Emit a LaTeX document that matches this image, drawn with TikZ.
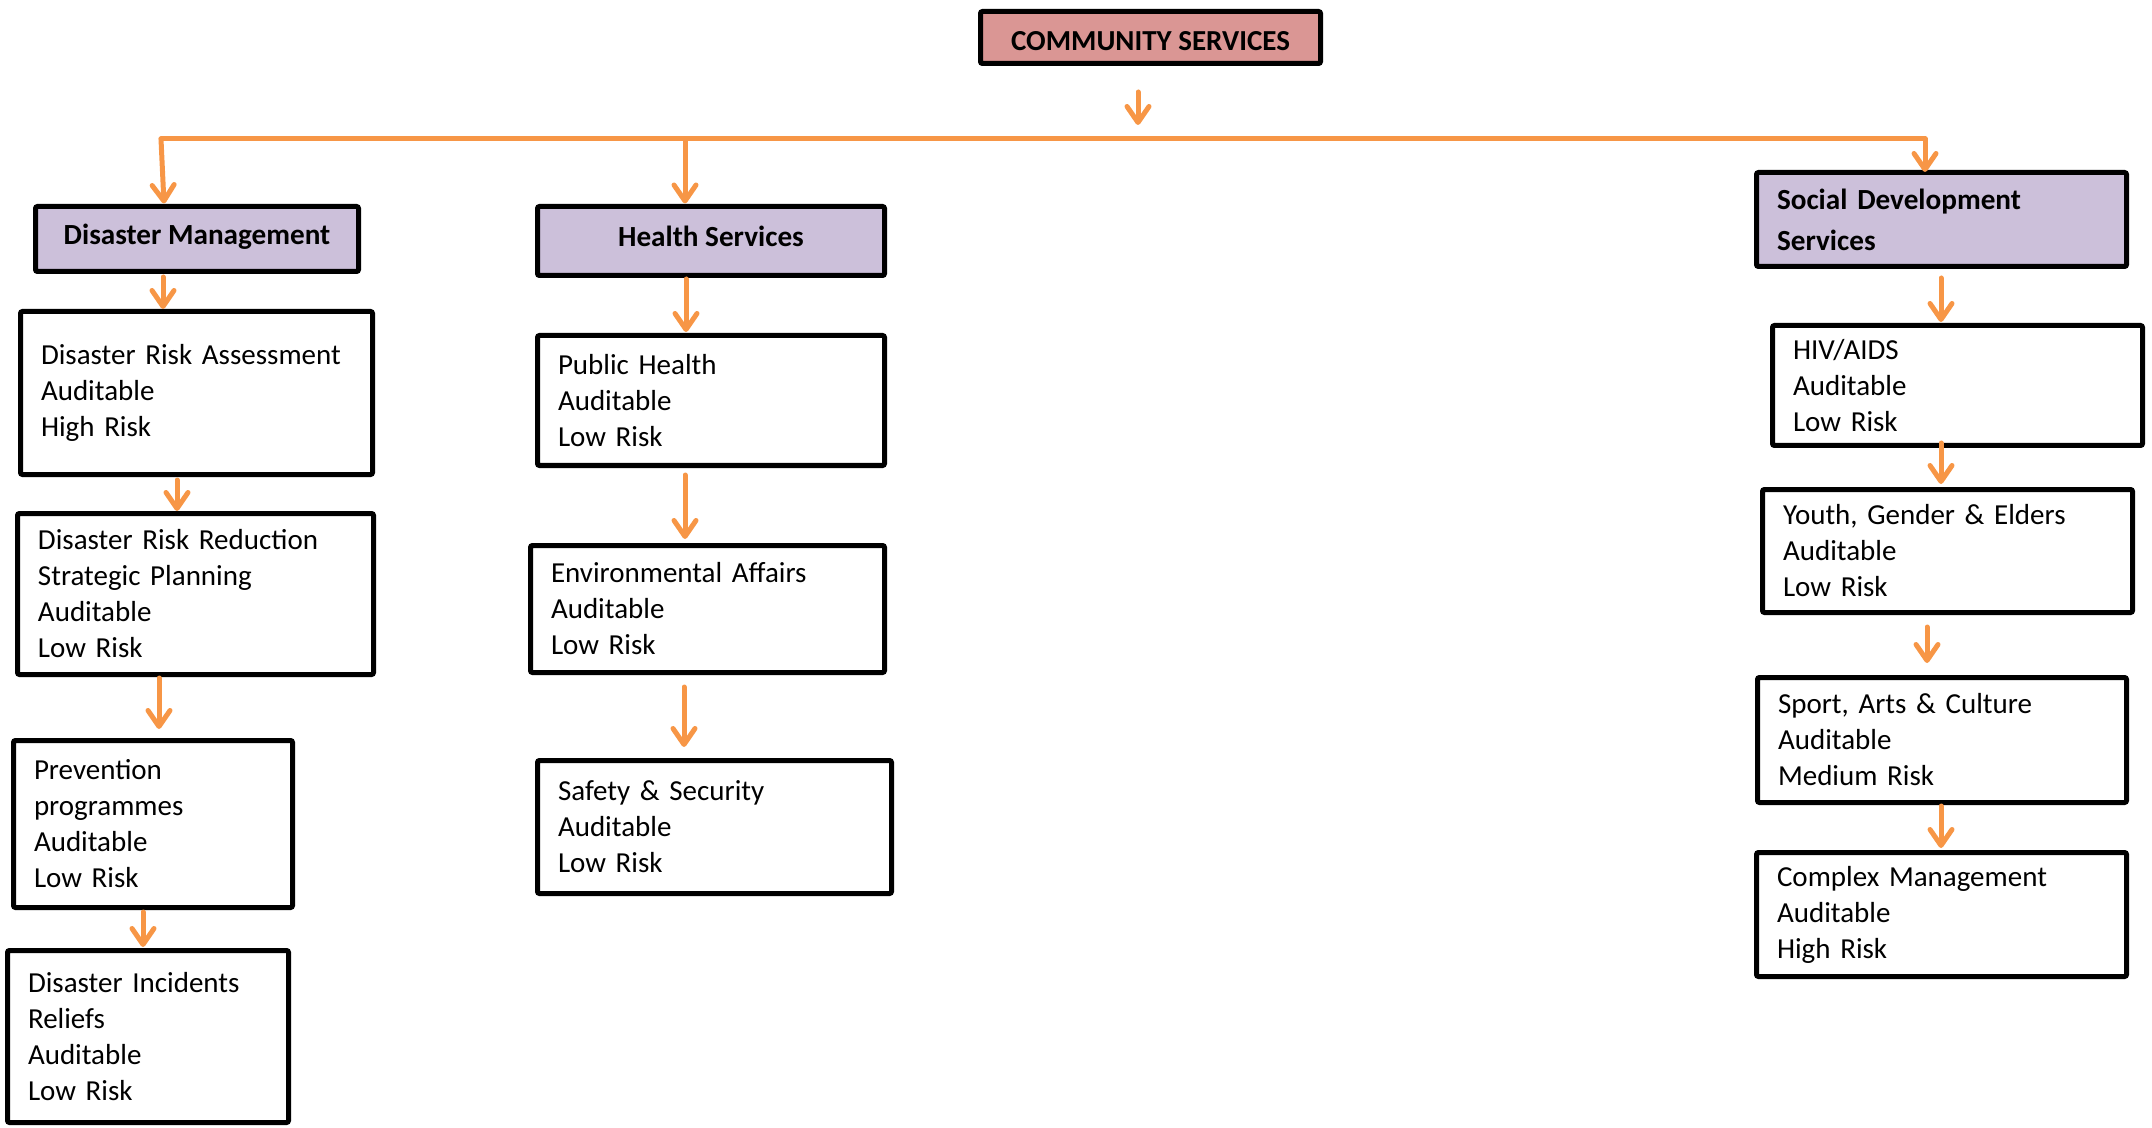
\documentclass[tikz,border=0pt]{standalone}
\usepackage{fontspec}
\setmainfont{Carlito}
\usetikzlibrary{arrows.meta,calc}

\definecolor{conn}{HTML}{F79646}
\definecolor{toppink}{HTML}{DA9694}
\definecolor{headlav}{HTML}{CCC0DA}

\tikzset{
  frame/.style={draw=black, line width=2.5pt, rounded corners=1pt, anchor=north west,
                inner ysep=0pt, font=\fontsize{14.5}{18}\selectfont},
  item/.style={frame, align=left, inner xsep=10.25pt},
  head/.style={frame, fill=headlav, inner xsep=0pt, text height=10pt, text depth=4pt,
               font=\fontsize{14.6}{20.5}\selectfont\bfseries},
  link/.style={draw=conn, line width=2.5pt, line cap=round, line join=round,
               -{Straight Barb[length=8pt, width=11pt, line cap=round, line join=round]}},
}

\begin{document}
\begin{tikzpicture}[x=0.5pt, y=-0.5pt]
  \useasboundingbox (0,0) rectangle (2152,1128);

  % top of the hierarchy
  \node[frame, fill=toppink, inner xsep=0pt, minimum width=170pt, minimum height=26pt,
        text height=13pt, text depth=0pt, font=\fontsize{14.5}{18}\selectfont\bfseries]
        (cs) at (978,9) {COMMUNITY SERVICES};

  % department headings
  \node[head, minimum width=161.5pt, minimum height=32.5pt] (dm) at (33,204) {Disaster Management};
  \node[head, minimum width=173.5pt, minimum height=34.5pt] (hs) at (535,204) {Health Services};
  \node[head, align=left, inner xsep=10.25pt, text height=, text depth=, text width=164.5pt,
        minimum height=47pt] (sds) at (1754,170) {\rule{0pt}{11pt}Social Development\\Services};

  % disaster management column
  \node[item, text width=155.5pt, minimum height=81.5pt] (dra) at (18,309)
    {Disaster Risk Assessment\\Auditable\\High Risk};
  \node[item, text width=157.5pt, minimum height=80.5pt] (drr) at (15,511)
    {Disaster Risk Reduction\\Strategic Planning\\Auditable\\Low Risk};
  \node[item, text width=119pt, minimum height=83.5pt] (prev) at (11,738)
    {Prevention\\programmes\\Auditable\\Low Risk};
  \node[item, text width=120pt, minimum height=86pt] (di) at (5,948)
    {Disaster Incidents\\Reliefs\\Auditable\\Low Risk};

  % health services column
  \node[item, text width=153pt, minimum height=65pt] (ph) at (535,333)
    {Public Health\\Auditable\\Low Risk};
  \node[item, text width=156.5pt, minimum height=63.5pt] (ea) at (528,543)
    {Environmental Affairs\\Auditable\\Low Risk};
  \node[item, text width=156.5pt, minimum height=66.5pt] (ss) at (535,758)
    {Safety \& Security\\Auditable\\Low Risk};

  % social development column
  \node[item, text width=164.5pt, minimum height=60pt] (hiv) at (1770,323)
    {HIV/AIDS\\Auditable\\Low Risk};
  \node[item, text width=164.5pt, minimum height=61.5pt] (yge) at (1760,487)
    {Youth, Gender \& Elders\\Auditable\\Low Risk};
  \node[item, text width=164pt, minimum height=62.5pt] (sac) at (1755,675)
    {Sport, Arts \& Culture\\Auditable\\Medium Risk};
  \node[item, text width=164.5pt, minimum height=62pt] (cm) at (1754,850)
    {Complex Management\\Auditable\\High Risk};

  % distribution bus
  \coordinate (busL) at (161,139);
  \coordinate (dmin) at ($(dm.north)+(-33,-0.5)$);
  \coordinate (hsin) at ($(hs.north)+(-26,-0.5)$);
  \coordinate (sdsin) at ($(sds.north)+(-16.5,2)$);
  \coordinate (busR) at (busL -| sdsin);

  \draw[link] ($(cs.south)+(-12.5,26)$) -- ($(cs.south)+(-12.5,59)$);
  \draw[link] (busL) -- (busR) -- (sdsin);
  \draw[link] (busL) -- (dmin);
  \draw[link] (busL -| hsin) -- (hsin);

  % column connectors
  \draw[link] ($(dm.south)+(-34,3)$)     -- ($(dra.north)+(-33.5,0)$);
  \draw[link] ($(dra.south)+(-19.5,3)$)  -- ($(drr.north)+(-18.5,0)$);
  \draw[link] ($(drr.south)+(-36.5,1)$)  -- ($(prev.north)+(6,-9)$);
  \draw[link] ($(prev.south)+(-10,2)$)   -- ($(di.north)+(-5,-1)$);

  \draw[link] ($(hs.south)+(-25,1)$)     -- ($(ph.north)+(-25,-1)$);
  \draw[link] ($(ph.south)+(-26,7)$)     -- ($(ea.north)+(-22.5,-4)$);
  \draw[link] ($(ea.south)+(-23.5,12)$)  -- ($(ss.north)+(-30.5,-11)$);

  \draw[link] ($(sds.south)+(-0.5,9)$)   -- ($(hiv.north)+(-16.5,-1)$);
  \draw[link] ($(hiv.south)+(-16.5,-5)$) -- ($(yge.north)+(-6.5,-3)$);
  \draw[link] ($(yge.south)+(-20.5,12)$) -- ($(sac.north)+(-15,-12)$);
  \draw[link] ($(sac.south)+(-1,1)$)     -- ($(cm.north)+(-0.5,-2)$);
\end{tikzpicture}
\end{document}
